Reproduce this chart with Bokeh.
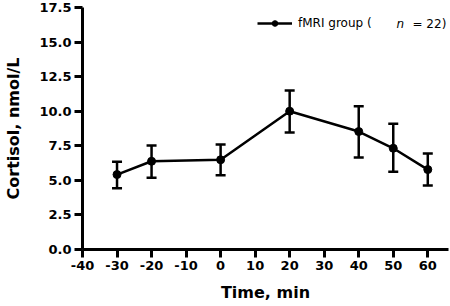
from bokeh.plotting import figure
from bokeh.models import (ColumnDataSource, Whisker, TeeHead, Legend, LegendItem,
                          Label, FixedTicker, NumeralTickFormatter, Range1d)
from bokeh.embed import file_html
from bokeh.resources import INLINE

# Data
time_min = [-30, -20, 0, 20, 40, 50, 60]
cortisol_mean = [5.42, 6.38, 6.49, 10.0, 8.53, 7.32, 5.78]
cortisol_upper = [6.34, 7.52, 7.59, 11.5, 10.36, 9.09, 6.94]
cortisol_lower = [4.43, 5.18, 5.37, 8.46, 6.65, 5.62, 4.63]
x_ticks = [-40, -30, -20, -10, 0, 10, 20, 30, 40, 50, 60]
y_ticks = [0.0, 2.5, 5.0, 7.5, 10.0, 12.5, 15.0, 17.5]

src = ColumnDataSource(dict(x=time_min, y=cortisol_mean,
                            upper=cortisol_upper, lower=cortisol_lower))

p = figure(width=450, height=306, output_backend="svg", toolbar_location=None,
           x_range=Range1d(-40, 66), y_range=Range1d(0, 17.5),
           min_border_left=82, min_border_right=2, min_border_top=7,
           min_border_bottom=57)
p.outline_line_color = None
p.grid.visible = False
p.background_fill_color = "white"
p.border_fill_color = "white"

for ax in (p.xaxis[0], p.yaxis[0]):
    ax.axis_line_width = 3
    ax.axis_line_color = "black"
    ax.major_tick_line_width = 3
    ax.major_tick_line_color = "black"
    ax.major_tick_out = 8
    ax.major_tick_in = 0
    ax.minor_tick_line_color = None
    ax.major_label_text_font = "DejaVu Sans"
    ax.major_label_text_font_style = "bold"
    ax.major_label_text_font_size = "13px"
    ax.major_label_text_color = "black"
    ax.axis_label_text_font = "DejaVu Sans"
    ax.axis_label_text_font_style = "bold"
    ax.axis_label_text_font_size = "16px"
    ax.axis_label_text_color = "black"

p.xaxis.ticker = FixedTicker(ticks=x_ticks)
p.xaxis.major_label_overrides = {t: str(t) for t in x_ticks}
p.yaxis.ticker = FixedTicker(ticks=y_ticks)
p.yaxis.formatter = NumeralTickFormatter(format="0.0")
p.xaxis.major_label_standoff = 3
p.yaxis.major_label_standoff = 3
p.xaxis.axis_label = "Time, min"
p.yaxis.axis_label = "Cortisol, nmol/L"
p.xaxis.axis_label_standoff = 10
p.yaxis.axis_label_standoff = 13

whisk = Whisker(source=src, base="x", upper="upper", lower="lower",
                line_width=2.5, line_color="black",
                upper_head=TeeHead(size=10, line_width=2.5, line_color="black"),
                lower_head=TeeHead(size=10, line_width=2.5, line_color="black"))
p.add_layout(whisk)

ln = p.line("x", "y", source=src, line_width=2.5, line_color="black")
sc = p.scatter("x", "y", source=src, size=8, marker="circle",
               fill_color="black", line_color="black")

legend = Legend(items=[LegendItem(label="fMRI group (", renderers=[ln, sc])],
                location=(175, 219), padding=0, margin=0, spacing=0,
                glyph_width=35, glyph_height=14, label_height=14,
                label_standoff=6, border_line_color=None,
                background_fill_alpha=0,
                label_text_font="DejaVu Sans", label_text_font_size="12px",
                label_text_color="black")
p.add_layout(legend)

p.add_layout(Label(x=314, y=226, x_units="screen", y_units="screen", text="n",
                   text_font="DejaVu Sans", text_font_size="12px",
                   text_font_style="italic", text_baseline="middle",
                   text_color="black"))
p.add_layout(Label(x=330, y=226, x_units="screen", y_units="screen", text="= 22)",
                   text_font="DejaVu Sans", text_font_size="12px",
                   text_baseline="middle", text_color="black"))

open("out.html", "w").write(file_html(p, INLINE))
